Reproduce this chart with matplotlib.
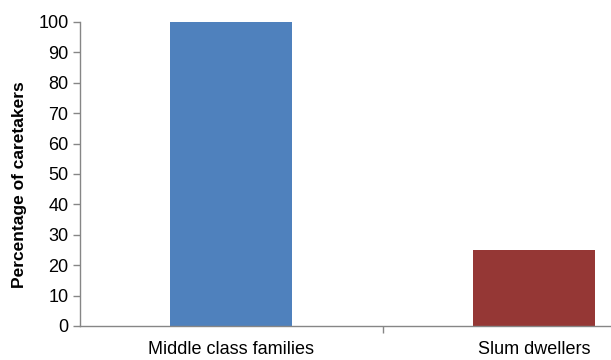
import matplotlib.pyplot as plt
from matplotlib.ticker import FixedLocator, MultipleLocator

groups = ["Middle class families", "Slum dwellers"]
percent = [100, 25]
bar_colors = ["#4F81BD", "#953735"]

plt.rcParams["font.family"] = ["Liberation Sans", "DejaVu Sans"]

fig = plt.figure(figsize=(6.11, 3.6), dpi=100)
# axes run past the right edge of the figure, as in the original export
ax = fig.add_axes([79.5 / 611, 34 / 360, 606 / 611, 304 / 360])

x = list(range(len(groups)))
ax.bar(x, percent, width=0.4, color=bar_colors)

ax.set_xlim(-0.5, 1.5)
ax.set_ylim(0, 100)
ax.yaxis.set_major_locator(MultipleLocator(10))

ax.set_xticks(x)
ax.set_xticklabels(groups, fontsize=13)
ax.tick_params(axis="x", which="major", length=0, pad=11)
ax.xaxis.set_minor_locator(FixedLocator([0.5]))
ax.tick_params(axis="x", which="minor", length=5, color="#868686", width=1)
ax.tick_params(axis="y", length=5, color="#868686", width=1, labelsize=13, pad=3)

for side in ["top", "right"]:
    ax.spines[side].set_visible(False)
for side in ["left", "bottom"]:
    ax.spines[side].set_color("#868686")
    ax.spines[side].set_linewidth(1)

ax.set_ylabel("Percentage of caretakers", fontsize=12.5, fontweight="bold")
ax.yaxis.set_label_coords(-52 / 606, 0.464)

fig.savefig("out.png", dpi=100)
